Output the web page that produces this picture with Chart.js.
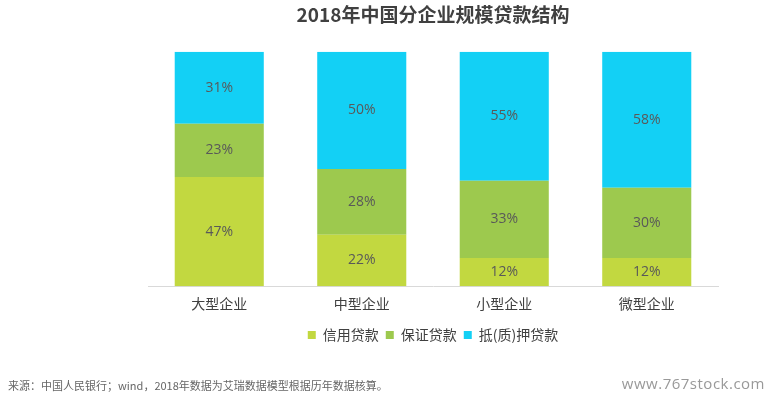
<!DOCTYPE html>
<html>
<head>
<meta charset="utf-8">
<script src="https://cdn.jsdelivr.net/npm/chart.js@4"></script>
<style>
  html, body { margin: 0; padding: 0; background: #fff; }
  #wrap { position: relative; width: 777px; height: 398px; }
  #source { position: absolute; left: 8px; top: 377px; font: 11px "Noto Sans CJK SC", sans-serif; color: #666; }
  #mark { position: absolute; right: 12px; top: 373px; font: 15px "Open Sans", sans-serif; color: #999; letter-spacing: 0.5px; }
</style>
</head>
<body>
<div id="wrap">
  <canvas id="chart" width="777" height="398"></canvas>
  <div id="source">来源：中国人民银行；wind，2018年数据为艾瑞数据模型根据历年数据核算。</div>
  <div id="mark">www.767stock.com</div>
</div>
<script>
// ================= DATA =================
const categories = ["大型企业", "中型企业", "小型企业", "微型企业"];
const creditLoan = [47, 22, 12, 12];      // 信用贷款
const guaranteeLoan = [23, 28, 33, 30];   // 保证贷款
const collateralLoan = [31, 50, 55, 58];  // 抵(质)押贷款

const seriesNames = ["信用贷款", "保证贷款", "抵(质)押贷款"];
const seriesColors = ["#c2d840", "#9dc94e", "#13d0f5"];

const rawSeries = [creditLoan, guaranteeLoan, collateralLoan];

// bars are stacked to 100% of each category
const totals = categories.map((_, i) => rawSeries.reduce((s, arr) => s + arr[i], 0));
const datasets = rawSeries.map((arr, k) => ({
  label: seriesNames[k],
  data: arr.map((v, i) => v / totals[i] * 100),
  raw: arr,
  backgroundColor: seriesColors[k],
  borderWidth: 0,
  categoryPercentage: 1,
  barPercentage: 0.625
}));

// ================= LABELS PLUGIN =================
const barLabels = {
  id: "barLabels",
  afterDatasetsDraw(chart) {
    const ctx = chart.ctx;
    ctx.save();
    ctx.font = '14px "Open Sans", "Noto Sans CJK SC", sans-serif';
    ctx.fillStyle = "#595959";
    ctx.textAlign = "center";
    ctx.textBaseline = "middle";
    chart.data.datasets.forEach((ds, k) => {
      chart.getDatasetMeta(k).data.forEach((bar, i) => {
        ctx.fillText(ds.raw[i] + "%", bar.x, (bar.y + bar.base) / 2);
      });
    });
    ctx.restore();
  }
};

// ================= CHART =================
new Chart(document.getElementById("chart").getContext("2d"), {
  type: "bar",
  data: { labels: categories, datasets: datasets },
  plugins: [barLabels],
  options: {
    responsive: false,
    animation: false,
    layout: { padding: { left: 148, right: 59, top: 0, bottom: 46 } },
    scales: {
      x: {
        stacked: true,
        grid: { display: false, drawTicks: false },
        border: { color: "#d9d9d9", width: 1 },
        ticks: { color: "#404040", padding: 9, font: { size: 14, family: '"Noto Sans CJK SC", sans-serif' } }
      },
      y: {
        stacked: true,
        min: 0,
        max: 100,
        display: false
      }
    },
    plugins: {
      title: {
        display: true,
        text: "2018年中国分企业规模贷款结构",
        color: "#404040",
        font: { size: 19, weight: "bold", family: '"Noto Sans CJK SC", sans-serif' },
        padding: { top: 3, bottom: 26 }
      },
      legend: {
        position: "bottom",
        labels: {
          boxWidth: 8,
          boxHeight: 8,
          padding: 7,
          color: "#404040",
          font: { size: 14, family: '"Noto Sans CJK SC", sans-serif' }
        }
      },
      tooltip: { enabled: false }
    }
  }
});
</script>
</body>
</html>
